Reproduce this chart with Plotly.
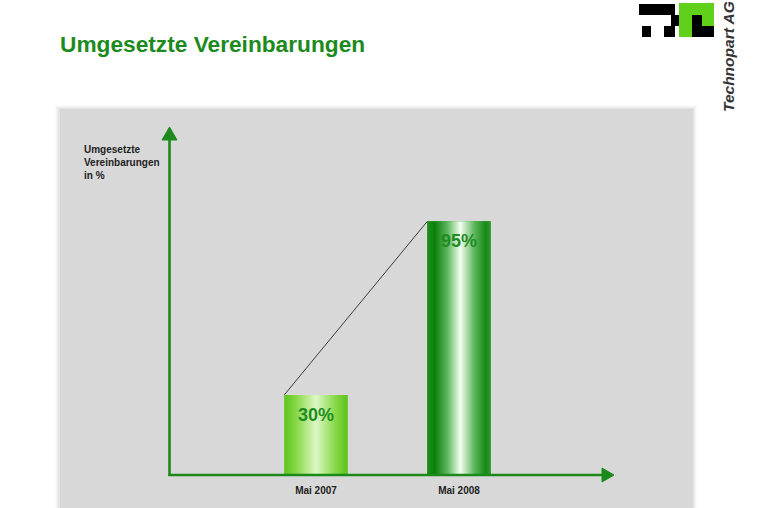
import plotly.graph_objects as go

# ---- data ----
categories = ["Mai 2007", "Mai 2008"]
values = [30, 95]
value_labels = ["30%", "95%"]
title_text = "Umgesetzte Vereinbarungen"
y_label_lines = ["Umgesetzte", "Vereinbarungen", "in %"]
logo_text = "Technopart AG"

# ---- styling ----
W, H = 762, 508
GREEN = "#1b8a1b"
FONT = "Arial, Liberation Sans, sans-serif"
PX_PER_UNIT = 2.67
AXIS_Y_PX = 475          # pixel row of the value 0 baseline
CAT0_PX, CAT_STEP_PX = 316, 143
BAR_W = 63.4 / CAT_STEP_PX

plot_h = AXIS_Y_PX
y_max = plot_h / PX_PER_UNIT
x0 = -CAT0_PX / CAT_STEP_PX
x1 = x0 + W / CAT_STEP_PX


def px(xp):
    return xp / W


def py(yp):
    return (AXIS_Y_PX - yp) / plot_h


bar_scales = [
    [[0, "#5ec41c"], [0.2, "#8ad94c"], [0.5, "#ddf7c6"], [0.8, "#88d94a"], [1, "#5ac21a"]],
    [[0, "#1a901a"], [0.12, "#0b7f0b"], [0.32, "#5fb85f"], [0.52, "#f4fff2"],
     [0.75, "#58b458"], [0.92, "#168a16"], [1, "#2a9a2a"]],
]

fig = go.Figure()

xs = list(range(len(categories)))
fig.add_trace(go.Bar(x=xs, y=values, width=BAR_W, marker_color=["#8edc52", "#2a9a2a"],
                     marker_line_width=0, hoverinfo="skip", showlegend=False))

for i, v in enumerate(values):
    l, r = i - BAR_W / 2, i + BAR_W / 2
    fig.add_trace(go.Scatter(
        x=[l, r, r, l, l], y=[0, 0, v, v, 0], mode="lines", fill="toself",
        line=dict(width=0, color="rgba(0,0,0,0)"),
        fillgradient=dict(type="horizontal", colorscale=bar_scales[i]),
        hoverinfo="skip", showlegend=False))

# connecting line between top-left corners
fig.add_trace(go.Scatter(
    x=[i - BAR_W / 2 for i in xs], y=values, mode="lines",
    line=dict(color="#3c3c3c", width=1), hoverinfo="skip", showlegend=False))

shapes = []
# panel shadow + panel
for k, op in enumerate([0.04, 0.06, 0.08, 0.11]):
    d = 4 - k
    shapes.append(dict(type="rect", xref="paper", yref="paper", layer="below",
                       x0=px(59 - d), x1=px(693 + d), y0=py(H + 10), y1=py(109 - d),
                       fillcolor=f"rgba(150,150,150,{op})", line_width=0))
shapes.append(dict(type="rect", xref="paper", yref="paper", layer="below",
                   x0=px(60), x1=px(693), y0=py(H + 10), y1=py(109),
                   fillcolor="#d8d8d8", line_width=0))
# axes with arrows
shapes.append(dict(type="line", xref="paper", yref="paper", x0=px(169.5), x1=px(169.5),
                   y0=py(AXIS_Y_PX + 1), y1=py(139), line=dict(color=GREEN, width=2.6)))
shapes.append(dict(type="path", xref="paper", yref="paper",
                   path=f"M {px(162)} {py(140)} L {px(177)} {py(140)} L {px(169.5)} {py(127)} Z",
                   fillcolor=GREEN, line=dict(color=GREEN, width=1)))
shapes.append(dict(type="line", xref="paper", yref="paper", x0=px(168.5), x1=px(603),
                   y0=py(AXIS_Y_PX), y1=py(AXIS_Y_PX), line=dict(color=GREEN, width=2.6)))
shapes.append(dict(type="path", xref="paper", yref="paper",
                   path=f"M {px(602)} {py(468)} L {px(602)} {py(482)} L {px(614)} {py(AXIS_Y_PX)} Z",
                   fillcolor=GREEN, line=dict(color=GREEN, width=1)))
# logo blocks
black_cells = [(639, 4, 675, 15), (671, 15, 679, 26), (642, 26, 651, 37), (664, 26, 675, 37)]
for (a, b, c, d) in black_cells:
    shapes.append(dict(type="rect", xref="paper", yref="paper", x0=px(a), x1=px(c),
                       y0=py(d), y1=py(b), fillcolor="#000000", line_width=0))
shapes.append(dict(type="rect", xref="paper", yref="paper", x0=px(679), x1=px(714),
                   y0=py(37), y1=py(3), fillcolor="#5fd11b", line_width=0))
for (a, b, c, d) in [(692, 15, 702, 26), (692, 26, 714, 37)]:
    shapes.append(dict(type="rect", xref="paper", yref="paper", x0=px(a), x1=px(c),
                       y0=py(d), y1=py(b), fillcolor="#000000", line_width=0))

annotations = []
for i, (v, t) in enumerate(zip(values, value_labels)):
    annotations.append(dict(x=i, y=v, xref="x", yref="y", text=f"<b>{t}</b>", showarrow=False,
                            xanchor="center", yanchor="middle",
                            yshift=-20, font=dict(family=FONT, size=18, color="#1f8c1f")))
annotations.append(dict(x=px(82), y=py(162), xref="paper", yref="paper",
                        xanchor="left", yanchor="middle", align="left", showarrow=False,
                        text="<br>".join(f"<b>{line}</b>" for line in y_label_lines),
                        font=dict(family=FONT, size=10, color="#222222")))
annotations.append(dict(x=px(728), y=py(57), xref="paper", yref="paper", textangle=-90,
                        xanchor="center", yanchor="middle",
                        showarrow=False, text=f"<b><i>{logo_text}</i></b>",
                        font=dict(family=FONT, size=15.5, color="#333333")))

fig.update_layout(
    width=W, height=H,
    margin=dict(l=0, r=0, t=0, b=H - AXIS_Y_PX),
    paper_bgcolor="white", plot_bgcolor="rgba(0,0,0,0)",
    barmode="overlay", showlegend=False,
    title=dict(text=f"<b>{title_text}</b>", xref="paper", yref="paper", x=px(60), y=py(44),
               xanchor="left", yanchor="middle",
               font=dict(family=FONT, size=22.7, color="#1c8a1c")),
    xaxis=dict(range=[x0, x1], tickvals=xs, ticktext=[f"<b>{c}</b>" for c in categories],
               showgrid=False, zeroline=False, showline=False, ticks="outside", ticklen=6,
               tickcolor="rgba(0,0,0,0)", tickfont=dict(family=FONT, size=10, color="#222222"),
               fixedrange=True),
    yaxis=dict(range=[0, y_max], visible=False, fixedrange=True),
    shapes=shapes, annotations=annotations,
)

fig.write_html("out.html", config={"displayModeBar": False},
               post_script="document.body.style.margin='0px';document.body.style.overflow='hidden';")
